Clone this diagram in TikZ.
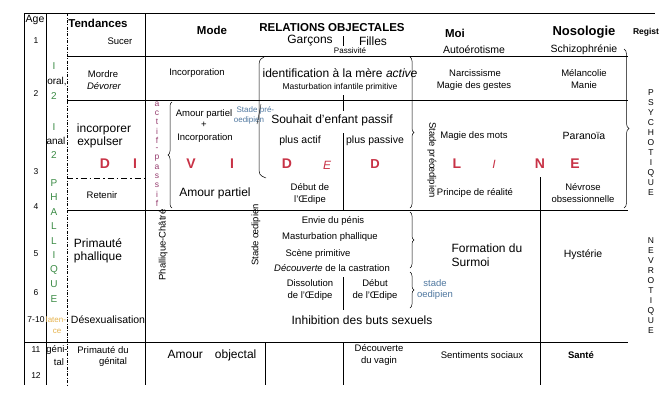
\documentclass[tikz,border=0pt]{standalone}
\usepackage{fontspec}
\setmainfont{Liberation Sans}
\usetikzlibrary{decorations.pathreplacing}
\definecolor{rd}{RGB}{200,50,70}
\definecolor{gr}{RGB}{60,140,70}
\definecolor{pu}{RGB}{150,60,110}
\definecolor{bl}{RGB}{80,120,160}
\definecolor{orz}{RGB}{230,180,80}
\begin{document}
\begin{tikzpicture}[x=1pt,y=-1pt,
  t/.style={font=\fontsize{9.5}{11.5}\selectfont,inner sep=0pt,align=center},
  tl/.style={font=\fontsize{12}{13.5}\selectfont,inner sep=0pt,align=center},
  hb/.style={font=\fontsize{11.5}{12}\selectfont\bfseries,inner sep=0pt},
  big/.style={font=\fontsize{14}{14}\selectfont\bfseries,inner sep=0pt,text=rd},
  gs/.style={font=\fontsize{10}{10}\selectfont\rmfamily,inner sep=0pt,text=gr},
  bs/.style={font=\fontsize{8}{9}\selectfont,inner sep=0pt,text=bl,align=center},
  ln/.style={line width=0.6pt},
  br/.style={decorate,decoration={brace,amplitude=4pt},line width=0.5pt}]
\fill[white] (0,0) rectangle (664,400);
\useasboundingbox (0,0) rectangle (664,400);
% frame
\draw[ln] (24,13) -- (655,13);
\draw[ln] (24,13) -- (24,385);
\draw[ln] (46,13) -- (46,385);
\draw[ln,dash pattern=on 3pt off 1.5pt on 0.8pt off 1.5pt] (67,13) -- (67,385);
\draw[ln] (145,13) -- (145,385);
\draw[ln] (67,56) -- (628,56);
\draw[ln] (67,100) -- (628,100);
\draw[line width=1pt,dash pattern=on 6pt off 3pt on 1.5pt off 3pt] (67,178) -- (145,178);
\draw[ln] (67,210) -- (628,210);
\draw[ln] (24,342) -- (628,342);
\draw[ln] (265,342) -- (265,385);
\draw[ln] (343,342) -- (343,385);
\draw[ln] (540,177) -- (540,385);
\draw[ln] (343,95) -- (343,111);
\draw[ln] (343,133) -- (343,210);
\draw[ln] (343,277) -- (343,310);
\draw[line width=0.5pt] (343,36) -- (343,46);
% header
\node[t,font=\fontsize{10.5}{11}\selectfont] (age) at (35,20) {Age};
\foreach \n/\y in {1/41,2/94,3/172,4/207,5/254,6/293,7-10/320,11/350,12/376}
  \node[t,font=\fontsize{8.5}{9}\selectfont\rmfamily] at (36,\y) {\n};
\node[hb] (tend) at (98,23) {Tendances};
\node[t] (sucer) at (120,41) {Sucer};
\node[hb] (mode) at (212,30) {Mode};
\node[hb] (rel) at (332,28) {RELATIONS OBJECTALES};
\node[tl] (garc) at (310,41) {Garçons};
\node[tl] (fil) at (373,41) {Filles};
\node[t,font=\fontsize{8}{9}\selectfont] (pass) at (350,51) {Passivité};
\node[hb] (moi) at (455,33) {Moi};
\node[t,font=\fontsize{10.5}{11}\selectfont] (auto) at (474,50) {Autoérotisme};
\node[hb,font=\fontsize{13}{13}\selectfont\bfseries] (noso) at (584,32) {Nosologie};
\node[t,font=\fontsize{10.5}{11}\selectfont] (schizo) at (584,50) {Schizophrénie};
\node[hb,font=\fontsize{8.5}{9}\selectfont\bfseries] (reg) at (646,32) {Regist};
% stage column
\node[gs] at (54,66) {I};
\node[t,font=\fontsize{10}{10}\selectfont\rmfamily] at (57,82) {oral,};
\node[gs] at (54,96) {2};
\node[gs] at (54,127) {I};
\node[t,font=\fontsize{10}{10}\selectfont\rmfamily] at (56,141) {anal};
\node[gs] at (54,155) {2};
\foreach \c [count=\i from 0] in {P,H,A,L,L,I,Q,U,E}
  \node[gs] at (54,{183+14.5*\i}) {\c};
\node[t,font=\fontsize{8}{8}\selectfont,text=orz] at (56,320) {laten-};
\node[t,font=\fontsize{8}{8}\selectfont,text=orz] at (57,331) {ce};
\node[t] at (57,350) {géni-};
\node[t] at (59,362) {tal};
% tendances
\node[t] (mordre) at (103,74) {Mordre};
\node[t,font=\fontsize{9.5}{11}\selectfont\itshape] (dev) at (104,86) {Dévorer};
\node[tl] (inc) at (104,129) {incorporer};
\node[tl] (exp) at (100,142) {expulser};
\node[big] at (105,164) {D};
\node[big] at (135,164) {I};
\node[t] (ret) at (102,195) {Retenir};
\node[tl,align=left] (prim) at (98,251) {Primauté\\phallique};
\node[t,font=\fontsize{10.5}{11}\selectfont] (desex) at (108,320) {Désexualisation};
\node[t] at (103,350) {Primauté du};
\node[t] at (113,362) {génital};
% mode
\node[t] (incm) at (197,73) {Incorporation};
\foreach \c [count=\i from 0] in {a,c,t,i,f,-,p,a,s,s,i,f}
  \node[t,font=\fontsize{8.5}{8}\selectfont,text=pu] at (157,{104+9*\i}) {\c};
\draw[br] (172,208) -- (172,102);
\node[t] (ap1) at (204,114) {Amour partiel};
\node[t] at (204,125) {+};
\node[t] (incm2) at (205,138) {Incorporation};
\node[bs] at (247,110) {Stade};
\node[bs] at (267,110) {pré-};
\node[bs] at (249,120) {oedipien};
\draw[line width=0.4pt] (261,104) -- (257,124);
\node[big] at (191,164) {V};
\node[big] at (232,164) {I};
\node[tl] (ap2) at (215,193) {Amour partiel};
\node[t,rotate=90] (phc) at (163,245) {Phallique-Châtré};
\node[t,rotate=90] (sto) at (256,235) {Stade œdipien};
% relations
\draw[line width=0.5pt] (264,57) .. controls (259,60) .. (259,70) -- (259,165) .. controls (259,175) .. (266,178);
\node[tl] (ident) at (340,73) {identification à la mère \textit{active}};
\node[t,font=\fontsize{8.5}{9}\selectfont] (mip) at (340,87) {Masturbation infantile primitive};
\node[tl] (souh) at (332,120) {Souhait d'enfant passif};
\node[t,font=\fontsize{10.5}{11}\selectfont] (pa) at (300,141) {plus actif};
\node[t,font=\fontsize{10.5}{11}\selectfont] (pp) at (375,141) {plus passive};
\node[big] at (287,164) {D};
\node[big,font=\fontsize{12}{12}\selectfont\itshape] at (327,165) {E};
\node[big,font=\fontsize{13}{13}\selectfont\rmfamily\bfseries] at (375,164) {D};
\node[t] (deb) at (310,194) {Début de\\l'Œdipe};
\draw[br] (410,57) -- (410,208);
\node[t,rotate=-90] (spre) at (432,160) {Stade préœdipien};
\node[t] (env) at (333,221) {Envie du pénis};
\node[t] (mph) at (330,237) {Masturbation phallique};
\node[t] (scp) at (318,254) {Scène primitive};
\node[t] (dcas) at (332,268) {\textit{Découverte} de la castration};
\node[t] (diss) at (310,290) {Dissolution\\de l'Œdipe};
\node[t] (deb2) at (375,290) {Début\\de l'Œdipe};
\draw[br] (410,212) -- (410,268);
\draw[br] (410,272) -- (410,308);
\node[bs,font=\fontsize{9.5}{11}\selectfont] (sto2) at (435,290) {stade\\oedipien};
\node[tl] (inh) at (362,320) {Inhibition des buts sexuels};
\node[tl] (aob) at (212,355) {Amour\quad objectal};
\node[t] (dv) at (379,355) {Découverte\\du vagin};
% moi
\node[t] (narc) at (475,73) {Narcissisme};
\node[t] (mg) at (474,86) {Magie des gestes};
\node[t] (mm) at (474,136) {Magie des mots};
\node[big] at (457,164) {L};
\node[big,font=\fontsize{12}{12}\selectfont\itshape] at (494,164) {I};
\node[big] at (540,164) {N};
\node[big] at (575,164) {E};
\node[t] (pr) at (475,193) {Principe de réalité};
\node[tl,align=left] (fs) at (487,255) {Formation du\\Surmoi};
\node[t] (ss) at (482,355) {Sentiments sociaux};
% nosologie
\node[t] (mel) at (584,79) {Mélancolie\\Manie};
\node[t,font=\fontsize{10.5}{11}\selectfont] (par) at (584,136) {Paranoïa};
\node[t] (nev) at (583,193) {Névrose\\obsessionnelle};
\node[t,font=\fontsize{10.5}{11}\selectfont] (hys) at (583,255) {Hystérie};
\node[t,font=\fontsize{9.5}{11}\selectfont\bfseries] (sante) at (581,355) {Santé};
% register
\draw[br,decoration={brace,amplitude=5pt}] (624,49) -- (624,208);
\foreach \c [count=\i from 0] in {P,S,Y,C,H,O,T,I,Q,U,E}
  \node[t,font=\fontsize{8.5}{9}\selectfont] at (651,{93+10*\i}) {\c};
\foreach \c [count=\i from 0] in {N,E,V,R,O,T,I,Q,U,E}
  \node[t,font=\fontsize{8.5}{9}\selectfont] at (651,{241+10*\i}) {\c};
\end{tikzpicture}
\end{document}
